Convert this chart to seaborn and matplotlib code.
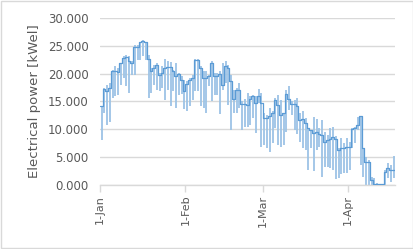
import numpy as np
import pandas as pd
import matplotlib
matplotlib.use('Agg')
import matplotlib.pyplot as plt
import seaborn as sns
from matplotlib.patches import Rectangle

# daily mean electrical power [kWel], 1-Jan onwards
mean_kw = [14.1, 17.2, 16.9, 17.5, 20.4, 20.4, 20.3, 21.9, 22.8, 22.9,
           22.3, 21.9, 24.8, 24.8, 25.6, 25.9, 25.6, 22.6, 20.5, 21.0,
           21.5, 19.7, 20.1, 21.0, 21.2, 21.2, 20.5, 19.6, 19.9, 18.9,
           16.9, 18.1, 18.9, 19.3, 22.5, 22.5, 21.0, 19.2, 19.2, 19.5,
           21.9, 19.6, 19.6, 20.0, 18.0, 21.4, 21.0, 18.6, 15.5, 17.1,
           17.1, 14.6, 14.6, 14.3, 15.4, 15.9, 14.7, 15.9, 14.8, 12.0,
           12.1, 12.4, 12.9, 15.3, 14.4, 12.6, 12.9, 16.3, 15.5, 14.6,
           14.6, 14.2, 11.7, 11.8, 11.1, 10.2, 9.9, 9.3, 9.6, 9.1,
           9.0, 7.7, 8.1, 8.2, 8.6, 8.2, 6.2, 6.6, 6.7, 6.8,
           6.9, 10.0, 10.3, 10.7, 12.4, 6.6, 4.2, 4.2, 0.9, 0.1,
           0.1, 0.1, 0.1, 2.4, 3.0, 2.7, 2.7]

# daily minimum
low_kw = [8.1, 12.9, 10.8, 11.4, 15.6, 15.9, 16.2, 18.0, 19.2, 17.7,
          16.6, 19.8, 19.8, 22.5, 22.5, 23.1, 22.5, 15.6, 16.5, 18.0,
          17.1, 16.8, 17.4, 15.3, 17.1, 14.2, 16.9, 13.8, 16.2, 16.3,
          13.6, 13.3, 14.2, 15.3, 16.8, 16.8, 14.1, 13.8, 13.0, 17.7,
          15.0, 16.2, 16.2, 12.8, 17.1, 18.3, 14.4, 9.9, 12.9, 12.9,
          13.8, 9.9, 10.4, 10.5, 10.8, 12.0, 9.3, 14.7, 6.9, 7.2,
          6.6, 6.0, 7.5, 10.2, 7.2, 6.9, 7.2, 9.6, 13.5, 12.6,
          9.9, 9.2, 7.8, 6.6, 6.3, 2.7, 6.6, 2.6, 6.3, 6.9,
          1.5, 3.3, 3.3, 3.0, 2.7, 1.0, 1.2, 2.0, 2.1, 2.1,
          2.7, 6.6, 7.5, 9.9, 3.6, 1.5, 0.0, 0.0, 0.0, 0.0,
          0.0, 0.0, 0.0, 0.0, 1.2, 0.6, 1.2]

# daily maximum
high_kw = [14.1, 17.4, 18.0, 18.3, 20.7, 21.3, 21.0, 21.9, 23.1, 23.4,
           23.1, 22.2, 25.1, 25.2, 25.7, 26.0, 25.7, 23.4, 21.0, 21.6,
           21.9, 20.1, 21.3, 22.6, 22.2, 22.0, 20.7, 21.9, 20.1, 19.5,
           18.9, 18.6, 19.2, 19.8, 22.6, 22.6, 21.3, 20.4, 20.4, 19.8,
           22.2, 20.1, 20.1, 20.4, 21.9, 22.2, 21.6, 19.8, 17.1, 17.5,
           18.3, 15.0, 15.4, 16.5, 15.9, 16.2, 16.0, 17.2, 16.5, 12.9,
           12.6, 13.8, 13.2, 15.6, 16.2, 15.3, 12.9, 17.1, 17.7, 15.0,
           15.3, 15.6, 12.9, 13.2, 12.0, 10.2, 9.9, 12.2, 11.8, 10.2,
           11.6, 9.6, 9.0, 10.2, 10.5, 8.8, 6.6, 8.4, 7.5, 8.4,
           7.8, 10.2, 10.5, 12.3, 12.4, 6.6, 5.1, 4.5, 1.5, 1.2,
           0.3, 0.2, 0.2, 2.7, 3.9, 3.6, 5.2]

month_ticks = ['2015-01-01', '2015-02-01', '2015-03-01', '2015-04-01']
month_labels = ['1-Jan', '1-Feb', '1-Mar', '1-Apr']
y_ticks = [0, 5, 10, 15, 20, 25, 30]

days = pd.date_range('2015-01-01', periods=len(mean_kw), freq='D')
df = pd.DataFrame({'day': days, 'mean': mean_kw, 'low': low_kw, 'high': high_kw})
# repeat last value so the final step is drawn to the end of its day
step_df = pd.concat([df, pd.DataFrame({'day': [days[-1] + pd.Timedelta(days=1)],
                                       'mean': [mean_kw[-1]]})], ignore_index=True)

sns.set_style('white')
plt.rcParams['font.family'] = ['DejaVu Sans']

fig = plt.figure(figsize=(4.14, 2.49), dpi=100)
ax = fig.add_axes([0.2415, 0.257, 0.712, 0.671])

gray = '#D9D9D9'
txt = '#595959'

ax.vlines(df['day'] + pd.Timedelta(hours=15), df['low'], df['high'],
          color='#9DC3E6', lw=1.3, zorder=2)
sns.lineplot(data=step_df, x='day', y='mean', ax=ax, color='#5B9BD5',
             lw=0.9, drawstyle='steps-post', zorder=3)

ax.set_xlim(days[0], days[-1] + pd.Timedelta(days=1))
ax.set_ylim(0, 30)
ax.set_yticks(y_ticks)
ax.set_yticklabels([f'{v:.3f}' for v in y_ticks])
ax.set_xticks(pd.to_datetime(month_ticks))
ax.set_xticklabels(month_labels, rotation=90)

ax.yaxis.grid(True, color=gray, lw=1)
ax.xaxis.grid(False)
ax.set_axisbelow(True)
for s in ['left', 'right', 'top']:
    ax.spines[s].set_visible(False)
ax.spines['bottom'].set_color(gray)
ax.spines['bottom'].set_linewidth(1)

ax.tick_params(axis='y', length=0, pad=8, labelsize=8.5, labelcolor=txt)
ax.tick_params(axis='x', length=5, width=1, color=gray, pad=2,
               labelsize=8, labelcolor=txt, bottom=True, direction='out')

ax.set_xlabel('')
ax.set_ylabel('Electrical power [kWel]', fontsize=9.5, color=txt, labelpad=5)

fig.patches.append(Rectangle((0.002, 0.003), 0.995, 0.994, transform=fig.transFigure,
                             fill=False, ec=gray, lw=1))

fig.savefig('out.png', dpi=100)
